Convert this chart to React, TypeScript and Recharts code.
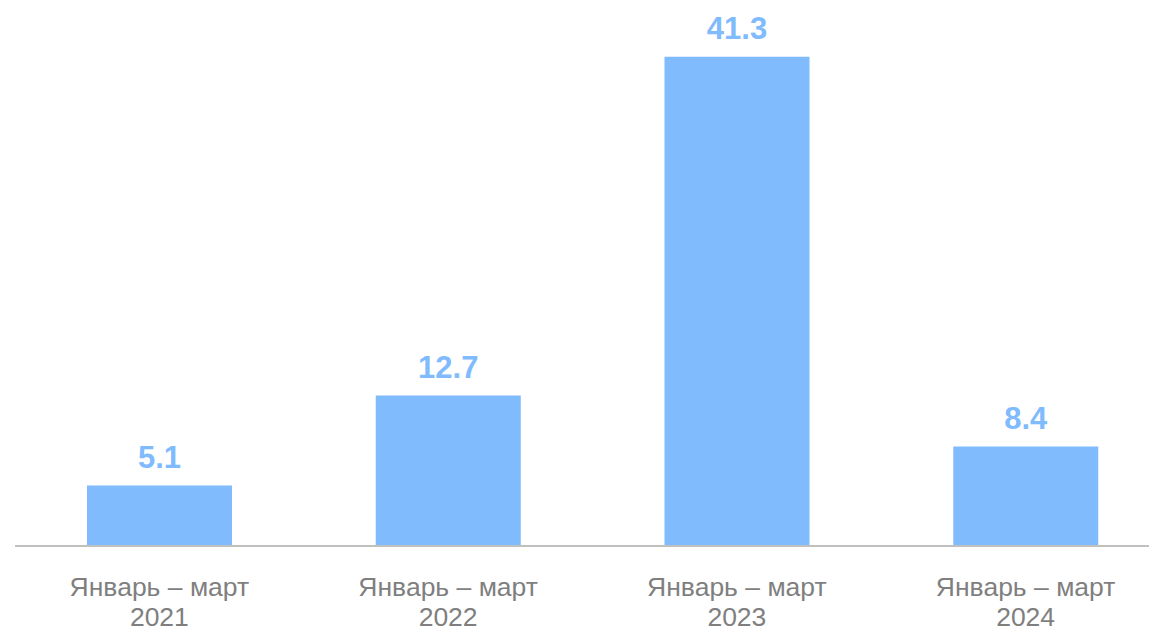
import React from "react";
import { BarChart, Bar, XAxis, YAxis, LabelList } from "recharts";

const categories = ["2021", "2022", "2023", "2024"];
const periodLabel = "Январь – март";
const values = [5.1, 12.7, 41.3, 8.4];

const data = categories.map((c, i) => ({ year: c, value: values[i] }));

const FONT = "'Liberation Sans', Arial, sans-serif";

const Tick = (props: any) => {
  const { x, y, payload } = props;
  return (
    <text x={x} y={y} textAnchor="middle" fill="#7f7f7f" fontSize={26.5} fontFamily={FONT}>
      <tspan x={x} dy={50}>{periodLabel}</tspan>
      <tspan x={x} dy={30}>{payload.value}</tspan>
    </text>
  );
};

export default function App() {
  return (
    <div
      style={{
        position: "fixed",
        left: 0,
        top: 0,
        width: 1149,
        height: 629,
        overflow: "hidden",
        background: "#fff",
      }}
    >
      <BarChart
        width={1175}
        height={629}
        data={data}
        margin={{ top: 13, right: 5, left: 15, bottom: 0 }}
      >
        <XAxis
          dataKey="year"
          height={83}
          tickLine={false}
          tickSize={0}
          tickMargin={0}
          axisLine={{ stroke: "#c0c0c0", strokeWidth: 2 }}
          tick={<Tick />}
          interval={0}
        />
        <YAxis hide domain={[0, 45]} />
        <Bar dataKey="value" fill="#7fbbfd" barSize={145} isAnimationActive={false}>
          <LabelList
            dataKey="value"
            position="top"
            offset={18}
            fill="#7fbbfd"
            fontSize={31}
            fontWeight="bold"
            fontFamily={FONT}
            formatter={(v: any) => Number(v).toFixed(1)}
          />
        </Bar>
      </BarChart>
    </div>
  );
}
